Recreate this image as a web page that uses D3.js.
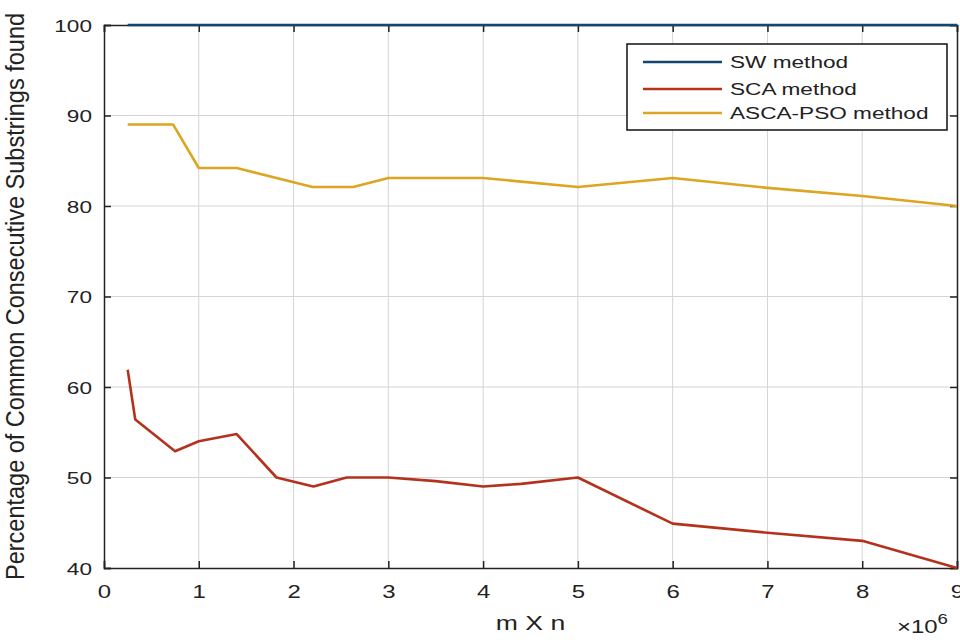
<!DOCTYPE html>
<meta charset="utf-8">
<style>
body { margin: 0; background: #fff; font-family: Arial, "Liberation Sans", sans-serif; }
text { fill: #222; }
.grid line { stroke: #d4d4d4; stroke-width: 1; }
.axis path, .axis line { stroke: #222; stroke-width: 1.5; }
</style>
<body>
<svg width="960" height="643"></svg>
<script src="https://d3js.org/d3.v7.min.js"></script>
<script>

// x in units of 10^6 (m X n)
var swX = [0.25, 9.0];
var swY = [100, 100];

var scaX = [0.25, 0.33, 0.75, 1.0, 1.4, 1.82, 2.21, 2.56, 3.0, 3.5, 4.0, 4.4, 5.0, 6.0, 7.0, 8.0, 9.0];
var scaY = [61.9, 56.4, 52.9, 54.0, 54.8, 50.0, 49.0, 50.0, 50.0, 49.6, 49.0, 49.3, 50.0, 44.9, 43.9, 43.0, 40.0];

var ascaX = [0.25, 0.73, 1.0, 1.4, 2.2, 2.63, 3.0, 4.0, 5.0, 6.0, 7.0, 8.0, 9.0];
var ascaY = [89.0, 89.0, 84.2, 84.2, 82.1, 82.1, 83.1, 83.1, 82.1, 83.1, 82.0, 81.1, 80.0];

var seriesNames = ["SW method", "SCA method", "ASCA-PSO method"];
var seriesColors = ["#14466f", "#b4321c", "#dca522"];

var xTicks = [0, 1, 2, 3, 4, 5, 6, 7, 8, 9];
var yTicks = [40, 50, 60, 70, 80, 90, 100];

var svg = d3.select("svg"),
    margin = {top: 25, right: 3, bottom: 75, left: 104},
    width = +svg.attr("width") - margin.left - margin.right,
    height = +svg.attr("height") - margin.top - margin.bottom,
    sx = 1.33; // glyphs in the picture are stretched horizontally

var x = d3.scaleLinear().domain([0, 9]).range([0, width]);
var y = d3.scaleLinear().domain([40, 100]).range([height, 0]);

var g = svg.append("g")
    .attr("transform", "translate(" + margin.left + "," + margin.top + ")");

// grid
g.append("g").attr("class", "grid")
    .selectAll("line").data(xTicks.slice(1, -1)).enter().append("line")
    .attr("x1", function (d) { return x(d); }).attr("x2", function (d) { return x(d); })
    .attr("y1", 0).attr("y2", height);
g.append("g").attr("class", "grid")
    .selectAll("line").data(yTicks.slice(1, -1)).enter().append("line")
    .attr("y1", function (d) { return y(d); }).attr("y2", function (d) { return y(d); })
    .attr("x1", 0).attr("x2", width);

// axes, ticks pointing inward
var xAxis = g.append("g").attr("class", "axis")
    .attr("transform", "translate(0," + height + ")")
    .call(d3.axisBottom(x).tickValues(xTicks).tickSize(-7).tickPadding(0).tickFormat(d3.format("d")));
xAxis.selectAll("text")
    .attr("y", 0).attr("dy", 0)
    .attr("font-size", 18)
    .attr("transform", "translate(0,30) scale(" + sx + ",1)");

var yAxis = g.append("g").attr("class", "axis")
    .call(d3.axisLeft(y).tickValues(yTicks).tickSize(-7).tickPadding(0));
yAxis.selectAll("text")
    .attr("x", 0).attr("dy", "0.36em")
    .attr("font-size", 17)
    .attr("transform", "translate(-12,0) scale(" + sx + ",1)");

g.append("g").attr("class", "axis")
    .call(d3.axisTop(x).tickValues(xTicks).tickSize(-7).tickFormat(""));
g.append("g").attr("class", "axis")
    .attr("transform", "translate(" + width + ",0)")
    .call(d3.axisRight(y).tickValues(yTicks).tickSize(-7).tickFormat(""));

// lines
var line = d3.line()
    .x(function (d) { return x(d[0]); })
    .y(function (d) { return y(d[1]); });

var series = [d3.zip(swX, swY), d3.zip(scaX, scaY), d3.zip(ascaX, ascaY)];

series.forEach(function (s, i) {
    g.append("path")
        .datum(s)
        .attr("fill", "none")
        .attr("stroke", seriesColors[i])
        .attr("stroke-width", 2.6)
        .attr("stroke-linejoin", "round")
        .attr("d", line);
});

// labels
g.append("text")
    .attr("text-anchor", "middle")
    .attr("font-size", 20)
    .attr("transform", "translate(" + (width / 2) + "," + (height + 62) + ") scale(" + sx + ",1)")
    .text("m X n");

var expo = g.append("text")
    .attr("font-size", 18)
    .attr("transform", "translate(" + (width - 60) + "," + (height + 65) + ") scale(" + sx + ",1)");
expo.append("tspan").text("\u00d710");
expo.append("tspan").attr("font-size", 14).attr("dy", -9).text("6");

g.append("text")
    .attr("text-anchor", "middle")
    .attr("font-size", 21)
    .attr("transform", "translate(-80," + (height / 2) + ") rotate(-90) scale(1.12,1.25)")
    .text("Percentage of Common Consecutive Substrings found");

// legend
var legend = svg.append("g").attr("transform", "translate(627,44)");
legend.append("rect")
    .attr("width", 320).attr("height", 86)
    .attr("fill", "#fff").attr("stroke", "#111").attr("stroke-width", 1.5);

var item = legend.selectAll("g.item").data(seriesNames).enter().append("g")
    .attr("class", "item")
    .attr("transform", function (d, i) { return "translate(0," + [18, 45, 69][i] + ")"; });
item.append("line")
    .attr("x1", 16).attr("x2", 95)
    .attr("stroke", function (d, i) { return seriesColors[i]; })
    .attr("stroke-width", 2.6);
item.append("text")
    .attr("dy", "0.36em")
    .attr("font-size", 17)
    .attr("transform", "translate(103,0) scale(" + sx + ",1)")
    .text(function (d) { return d; });

</script>
</body>
